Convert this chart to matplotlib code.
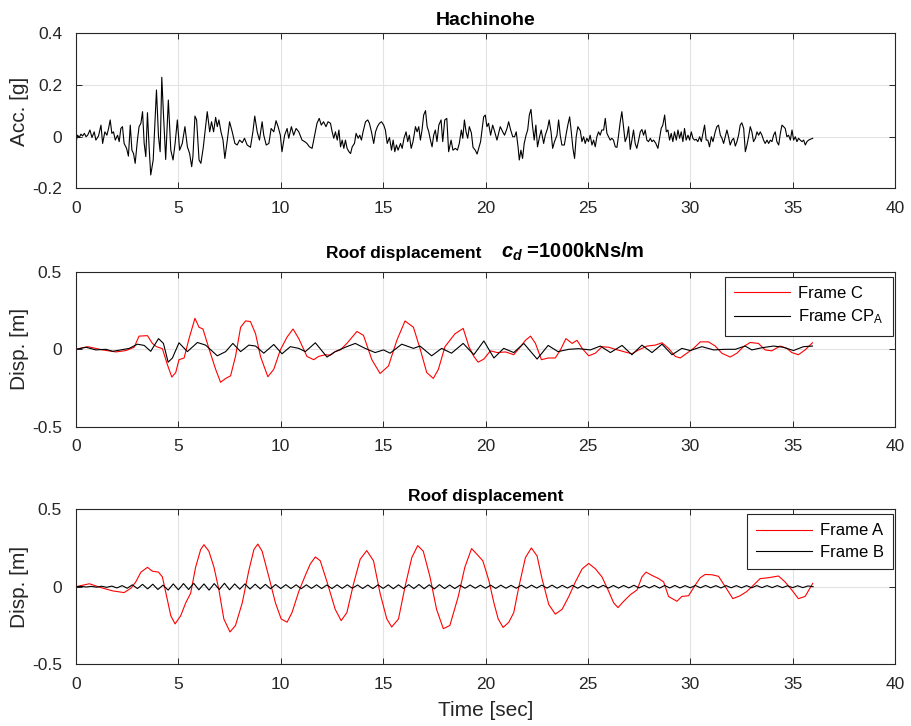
import numpy as np
import matplotlib
matplotlib.use("Agg")
import matplotlib.pyplot as plt
from matplotlib.ticker import FuncFormatter
from matplotlib.offsetbox import TextArea, HPacker, AnchoredOffsetbox

plt.rcParams['font.family'] = ['Liberation Sans', 'DejaVu Sans']
plt.rcParams['mathtext.fontset'] = 'custom'
plt.rcParams['mathtext.it'] = 'Liberation Sans:italic:bold'
plt.rcParams['mathtext.rm'] = 'Liberation Sans:bold'
plt.rcParams['mathtext.sf'] = 'Liberation Sans'
plt.rcParams['axes.unicode_minus'] = False

# ---------------- data ----------------
acc_t = [0.00, 0.08, 0.16, 0.24, 0.32, 0.41, 0.49, 0.57, 0.68, 0.78, 0.89, 0.97, 1.10, 1.22, 1.30, 1.41,
         1.51, 1.59, 1.67, 1.75, 1.83, 1.92, 2.03, 2.11, 2.19, 2.27, 2.35, 2.47, 2.56, 2.65, 2.73, 2.81,
         2.89, 3.00, 3.08, 3.17, 3.25, 3.33, 3.41, 3.49, 3.57, 3.65, 3.77, 3.93, 4.03, 4.11, 4.19, 4.27,
         4.38, 4.51, 4.63, 4.74, 4.84, 4.95, 5.06, 5.19, 5.32, 5.44, 5.55, 5.65, 5.71, 5.81, 5.89, 6.01,
         6.10, 6.22, 6.33, 6.41, 6.53, 6.62, 6.72, 6.82, 6.90, 6.98, 7.08, 7.18, 7.27, 7.39, 7.50, 7.63,
         7.76, 7.87, 7.99, 8.12, 8.23, 8.36, 8.52, 8.64, 8.73, 8.85, 8.96, 9.09, 9.17, 9.29, 9.42, 9.53,
         9.66, 9.77, 9.87, 9.98, 10.06, 10.19, 10.31, 10.39, 10.52, 10.63, 10.75, 10.88, 11.04, 11.17,
         11.28, 11.40, 11.53, 11.64, 11.77, 11.88, 11.98, 12.09, 12.21, 12.31,
         12.43, 12.51, 12.59, 12.67, 12.76, 12.84, 12.92, 13.00, 13.08, 13.16, 13.24, 13.33, 13.41, 13.49,
         13.60, 13.68, 13.78, 13.86, 13.94, 14.02, 14.14, 14.25, 14.33, 14.43, 14.54, 14.63, 14.72, 14.82,
         14.92, 15.03, 15.11, 15.20, 15.31, 15.41, 15.49, 15.57, 15.65, 15.73, 15.85, 15.93, 16.02, 16.12,
         16.20, 16.28, 16.37, 16.46, 16.58, 16.66, 16.74, 16.82, 16.90, 16.98, 17.07, 17.15, 17.23, 17.31,
         17.39, 17.47, 17.55, 17.63, 17.72, 17.83, 17.91, 18.01, 18.11, 18.20, 18.32, 18.41, 18.53, 18.63,
         18.72, 18.82, 18.89, 18.97, 19.05, 19.13, 19.21, 19.31, 19.39, 19.50, 19.59, 19.67, 19.76, 19.83,
         19.91, 19.99, 20.07, 20.15, 20.25, 20.35, 20.45, 20.56, 20.64, 20.72, 20.84, 20.93, 21.05, 21.13,
         21.23, 21.33, 21.42, 21.50, 21.59, 21.65, 21.73, 21.81, 21.89, 21.98, 22.06, 22.14, 22.22, 22.30,
         22.38, 22.46, 22.54, 22.64, 22.72, 22.84, 22.92, 23.03, 23.11, 23.20, 23.28, 23.37, 23.49, 23.57,
         23.65, 23.73, 23.85, 23.93, 24.02, 24.11, 24.19, 24.27, 24.35, 24.43, 24.51,
         24.63, 24.71, 24.79, 24.87, 24.95, 25.03, 25.11, 25.20, 25.28, 25.36, 25.44, 25.52, 25.60, 25.68,
         25.77, 25.85, 25.93, 26.01, 26.09, 26.17, 26.25, 26.34, 26.42, 26.50, 26.58, 26.66, 26.74, 26.82,
         26.91, 26.99, 27.07, 27.15, 27.23, 27.31, 27.39, 27.48, 27.56, 27.64, 27.72, 27.80, 27.88, 27.96,
         28.05, 28.13, 28.21, 28.32, 28.42, 28.50, 28.58, 28.66, 28.75, 28.83, 28.91, 28.99, 29.07, 29.15,
         29.23, 29.32, 29.40, 29.48, 29.56, 29.64, 29.72, 29.80, 29.89, 29.97, 30.05, 30.13, 30.21, 30.29,
         30.37, 30.46, 30.54, 30.62, 30.70, 30.78, 30.86, 30.94, 31.03, 31.11, 31.22, 31.30, 31.38, 31.47,
         31.55, 31.63, 31.71, 31.79, 31.87, 31.95, 32.04, 32.12, 32.20, 32.28, 32.36, 32.44, 32.52, 32.61,
         32.69, 32.77, 32.85, 32.93, 33.01, 33.09, 33.18, 33.26, 33.34, 33.42, 33.50, 33.58, 33.66, 33.75,
         33.83, 33.91, 33.99, 34.07, 34.15, 34.23, 34.32, 34.40, 34.48, 34.56, 34.64, 34.72, 34.80, 34.89,
         34.97, 35.05, 35.13, 35.21, 35.29, 35.37, 35.46, 35.54, 35.62, 35.70, 35.78, 35.86, 35.98]
acc_g = [-0.019, 0.006, -0.003, 0.010, 0.003, 0.013, 0.000, 0.006, 0.026, -0.003, 0.019, -0.013, 0.003, 0.045, -0.026, 0.019,
         0.006, 0.032, 0.065, 0.013, 0.019, -0.013, 0.006, -0.019, 0.032, 0.039, -0.026, -0.045, -0.075, 0.045, -0.052, -0.065,
         -0.103, -0.013, 0.039, 0.052, 0.097, -0.026, -0.077, 0.093, -0.039, -0.148, -0.090, 0.181, 0.000, -0.058, 0.230, 0.090,
         -0.088, 0.142, -0.052, -0.090, -0.026, 0.065, -0.052, -0.026, 0.039, -0.039, -0.065, -0.116, -0.077, 0.080, 0.065, -0.090,
         -0.103, -0.039, 0.039, 0.097, 0.019, 0.058, 0.019, 0.075, 0.039, 0.065, 0.019, -0.013, -0.084, -0.013, 0.058, 0.019,
         -0.026, -0.032, -0.013, -0.023, -0.006, -0.032, -0.041, 0.019, 0.080, 0.019, -0.013, 0.058, 0.006, -0.032, -0.026, 0.032,
         0.019, 0.062, 0.039, 0.006, -0.058, 0.006, 0.032, -0.006, 0.039, 0.006, 0.032, 0.019, -0.013, -0.019,
         -0.026, -0.039, -0.045, 0.000, 0.052, 0.071, 0.045, 0.058, 0.039, 0.058,
         0.052, 0.019, -0.006, 0.019, -0.013, 0.026, -0.039, -0.013, -0.045, -0.013, -0.045, -0.058, -0.065, -0.039,
         -0.026, 0.013, -0.006, 0.006, -0.013, 0.019, 0.058, 0.065, 0.052, 0.019, -0.026, 0.019, 0.039, 0.052,
         0.058, 0.045, 0.026, -0.026, -0.003, -0.052, -0.013, -0.058, -0.032, -0.052, -0.026, -0.045, -0.006, 0.019,
         -0.019, 0.006, -0.045, -0.019, 0.039, 0.019, 0.039, -0.013, 0.026, 0.084, 0.101, 0.039, 0.019, -0.013,
         -0.039, 0.006, 0.026, -0.019, 0.045, 0.065, -0.019, 0.065, 0.071, -0.058, -0.013, -0.052, -0.045, -0.052,
         -0.026, 0.026, -0.006, 0.065, 0.019, -0.006, 0.039, 0.015, -0.041, -0.052, -0.067, -0.045, -0.019, 0.026,
         0.077, 0.084, 0.039, 0.052, 0.006, 0.045, 0.019, -0.013, 0.013, 0.039, 0.019, 0.006, 0.032, 0.058,
         0.026, 0.000, 0.000, 0.019, -0.039, -0.090, -0.052, -0.084, -0.026, 0.006, 0.026, 0.084, 0.106, 0.039,
         -0.013, 0.045, -0.039, 0.000, 0.026, -0.026, 0.006, 0.032, 0.065, 0.019, -0.045, -0.019, 0.006, 0.065,
         0.006, -0.032, -0.032, 0.006, 0.045, 0.077, 0.019, -0.045, -0.084, 0.000, 0.039,
         0.023, -0.019, 0.000, -0.026, -0.006, -0.019, 0.006, -0.032, -0.013, -0.039, 0.000, 0.019, 0.006, 0.026,
         0.026, 0.071, 0.013, 0.000, -0.013, -0.006, -0.013, -0.039, -0.041, 0.006, 0.058, 0.097, 0.039, -0.019,
         0.000, 0.039, -0.049, -0.013, 0.026, -0.026, -0.045, -0.013, 0.019, 0.028, 0.006, 0.026, -0.013, -0.019,
         -0.006, -0.019, -0.013, -0.026, -0.045, -0.006, 0.032, 0.045, 0.084, 0.019, 0.026, -0.013, 0.013, -0.019,
         0.019, -0.013, 0.026, -0.006, 0.019, -0.019, 0.032, -0.013, 0.006, -0.013, 0.019, -0.006, -0.013, -0.010,
         -0.019, 0.000, -0.019, 0.013, 0.045, -0.013, -0.013, -0.039, 0.000, -0.019, 0.019, 0.039, 0.045, 0.006,
         -0.006, -0.026, 0.000, 0.026, 0.000, -0.032, -0.013, -0.006, -0.036, -0.019, 0.006, 0.045, 0.054, 0.032,
         -0.058, -0.032, 0.000, 0.039, 0.019, -0.019, -0.006, 0.019, 0.006, 0.019, 0.006, -0.013, -0.026, -0.013,
         -0.026, -0.013, -0.019, 0.006, 0.019, -0.019, -0.032, 0.013, 0.045, 0.039, 0.032, 0.000, 0.006, -0.013,
         0.026, -0.013, 0.000, -0.019, -0.006, -0.013, -0.019, -0.013, -0.032, -0.019, -0.013, -0.010, -0.006]

# Middle panel: Frame C (red) and Frame CP_A (black)
fc_t = [0.00, 0.57, 1.30, 1.95, 2.44, 2.84, 3.08, 3.49, 3.73, 3.93, 4.22, 4.46, 4.68, 4.87, 5.03, 5.28,
        5.52, 5.81, 6.01, 6.20, 6.49, 6.82, 7.06, 7.31, 7.55, 7.79, 8.04, 8.28, 8.52, 8.77, 9.01, 9.37,
        9.66, 9.98, 10.31, 10.60, 10.88, 11.28, 11.61, 11.85, 12.18, 12.42, 12.66, 12.91, 13.23, 13.72,
        14.04, 14.45, 14.85, 15.26, 15.67, 16.07, 16.48, 16.80, 17.13, 17.45, 17.70, 18.02, 18.51, 18.91,
        19.19, 19.43, 19.64, 19.92, 20.24, 20.57, 20.98, 21.38, 21.71, 21.95, 22.20, 22.44, 22.73, 23.06,
        23.41, 23.66, 23.93, 24.23, 24.47, 24.72, 25.04, 25.37, 25.69, 26.02, 26.34, 26.75, 27.15, 27.48,
        27.89, 28.29, 28.62, 28.94, 29.27, 29.51, 29.84, 30.16, 30.49, 30.89, 31.22, 31.54, 31.95, 32.28,
        32.60, 32.93, 33.33, 33.66, 33.98, 34.39, 34.72, 34.96, 35.28, 35.61, 35.97]
fc_d = [0.000, 0.017, -0.004, -0.017, -0.008, 0.013, 0.085, 0.088, 0.038, 0.017, 0.004, -0.098, -0.179, -0.150, -0.067, -0.056,
        0.069, 0.200, 0.142, 0.131, 0.006, -0.129, -0.213, -0.188, -0.171, -0.046, 0.142, 0.183, 0.179, 0.100, -0.046, -0.177,
        -0.129, -0.004, 0.079, 0.131, 0.069, -0.046, -0.067, -0.046, -0.035, -0.038, -0.015, -0.004, 0.038, 0.115,
        0.090, -0.067, -0.156, -0.108, 0.058, 0.183, 0.142, 0.006, -0.150, -0.188, -0.129, 0.017, 0.100, 0.135,
        0.017, -0.046, -0.083, -0.063, -0.010, -0.021, -0.017, -0.035, 0.017, 0.058, 0.085, 0.038, -0.067, -0.056,
        -0.056, -0.004, 0.069, 0.038, 0.058, 0.006, -0.042, -0.025, 0.017, 0.013, 0.000, -0.015, -0.029, -0.004,
        0.021, 0.027, 0.042, 0.006, -0.046, -0.056, -0.025, 0.006, 0.048, 0.048, 0.021, -0.025, -0.050, -0.025,
        0.017, 0.044, 0.038, -0.004, -0.010, 0.021, 0.006, -0.021, -0.035, -0.004, 0.042]

fcpa_t = [0.00, 0.49, 0.97, 1.46, 1.79, 2.19, 2.60, 3.00, 3.33, 3.65, 4.03, 4.27, 4.50, 4.71, 5.03, 5.44,
          5.93, 6.33, 6.90, 7.31, 7.66, 8.04, 8.44, 8.77, 9.17, 9.66, 10.06, 10.47, 10.88, 11.20, 11.69, 12.26,
          12.66, 13.15, 13.64, 14.12, 14.61, 15.02, 15.34, 15.91, 16.48, 16.80, 17.37, 17.86, 18.34, 18.91,
          19.43, 19.92, 20.41, 20.89, 21.38, 21.87, 22.52, 23.06, 23.54, 24.07, 24.55, 25.12, 25.61, 26.10,
          26.67, 27.15, 27.64, 28.13, 28.62, 29.11, 29.59, 30.00, 30.57, 31.14, 31.71, 32.20, 32.68, 33.01,
          33.50, 34.07, 34.55, 35.04, 35.53, 35.97]
fcpa_d = [0.000, 0.013, -0.004, 0.000, -0.013, -0.004, 0.006, 0.033, 0.025, -0.013, 0.069, 0.038, -0.083, -0.056, 0.042, -0.015,
          0.044, 0.027, -0.042, -0.015, 0.038, -0.015, 0.027, 0.021, -0.025, 0.031, -0.029, 0.017, 0.006, -0.015, 0.042, -0.050,
          -0.015, 0.013, 0.038, 0.006, -0.021, -0.004, -0.025, 0.033, 0.006, 0.021, -0.042, 0.006, -0.025, 0.038,
          -0.035, 0.054, -0.056, 0.006, -0.021, 0.038, -0.063, 0.025, -0.015, 0.000, 0.004, -0.004, 0.021, -0.021,
          0.025, -0.035, 0.027, -0.021, 0.033, -0.035, 0.006, -0.008, 0.017, -0.004, 0.000, 0.000, 0.021, -0.004,
          0.010, 0.021, 0.013, -0.008, 0.017, 0.021]

# Bottom panel: Frame A (red) and Frame B (black)
fa_t = [0.00, 0.65, 1.22, 1.79, 2.35, 2.68, 2.92, 3.17, 3.49, 3.73, 4.03, 4.22, 4.46, 4.63, 4.84, 5.11,
        5.36, 5.60, 5.84, 6.09, 6.25, 6.49, 6.74, 6.98, 7.22, 7.52, 7.79, 8.12, 8.44, 8.69, 8.88, 9.09,
        9.42, 9.74, 10.02, 10.31, 10.55, 10.88, 11.20, 11.44, 11.69, 11.93, 12.26, 12.66, 12.95, 13.23,
        13.56, 13.88, 14.20, 14.53, 14.85, 15.18, 15.42, 15.75, 16.07, 16.40, 16.69, 16.96, 17.29, 17.61,
        17.94, 18.26, 18.67, 18.99, 19.32, 19.59, 19.87, 20.16, 20.41, 20.62, 20.86, 21.14, 21.38, 21.63,
        21.95, 22.24, 22.52, 22.76, 23.09, 23.41, 23.74, 24.07, 24.39, 24.72, 25.04, 25.37, 25.69, 26.02,
        26.26, 26.47, 26.75, 27.07, 27.40, 27.64, 27.84, 28.13, 28.46, 28.70, 28.94, 29.35, 29.59, 29.92,
        30.24, 30.49, 30.73, 31.06, 31.38, 31.71, 32.08, 32.44, 32.76, 33.09, 33.41, 33.82, 34.31, 34.63,
        34.96, 35.28, 35.61, 35.98]
fa_d = [0.000, 0.019, -0.006, -0.027, -0.038, -0.010, 0.031, 0.094, 0.125, 0.100, 0.094, 0.063, -0.083, -0.188, -0.240, -0.188,
        -0.104, -0.042, 0.125, 0.240, 0.271, 0.229, 0.125, -0.021, -0.208, -0.292, -0.250, -0.104, 0.104, 0.240, 0.275, 0.229,
        0.063, -0.104, -0.208, -0.229, -0.167, -0.031, 0.073, 0.146, 0.192, 0.167, 0.031, -0.146, -0.219, -0.167,
        0.021, 0.177, 0.233, 0.167, -0.042, -0.208, -0.260, -0.208, 0.000, 0.188, 0.265, 0.229, 0.063, -0.146,
        -0.271, -0.250, -0.063, 0.125, 0.246, 0.208, 0.167, 0.042, -0.104, -0.208, -0.263, -0.229, -0.167, 0.000,
        0.188, 0.250, 0.198, 0.052, -0.115, -0.177, -0.146, -0.063, 0.031, 0.115, 0.150, 0.115, 0.063, -0.031,
        -0.104, -0.135, -0.094, -0.052, -0.021, 0.063, 0.094, 0.073, 0.052, 0.031, -0.063, -0.094, -0.063, -0.058,
        0.010, 0.058, 0.079, 0.077, 0.067, 0.000, -0.077, -0.058, -0.031, 0.010, 0.052, 0.058, 0.069, 0.031,
        -0.021, -0.077, -0.063, 0.021]

fb_dt = 0.25  # sampling of the read-off values below (one value per half-oscillation)
fb_d = [0.000, 0.002, -0.002, 0.002,
        -0.003, 0.003, -0.004, 0.004,
        -0.008, 0.007, -0.010, 0.012,
        -0.012, 0.015, -0.014, 0.016,
        -0.018, 0.010, -0.022, 0.018,
        -0.020, 0.020, -0.018, 0.022,
        -0.020, 0.018, -0.022, 0.020,
        -0.018, 0.022, -0.020, 0.018,
        -0.016, 0.018, -0.015, 0.016,
        -0.014, 0.015, -0.013, 0.014,
        -0.012, 0.013, -0.012, 0.012,
        -0.013, 0.012, -0.011, 0.012,
        -0.012, 0.011, -0.012, 0.012,
        -0.011, 0.012, -0.010, 0.011,
        -0.012, 0.011, -0.012, 0.012,
        -0.011, 0.012, -0.013, 0.012,
        -0.012, 0.013, -0.012, 0.014,
        -0.013, 0.012, -0.014, 0.013,
        -0.012, 0.011, -0.012, 0.010,
        -0.010, 0.011, -0.010, 0.010,
        -0.010, 0.010, -0.011, 0.010,
        -0.010, 0.009, -0.010, 0.010,
        -0.010, 0.010, -0.009, 0.010,
        -0.009, 0.010, -0.010, 0.009,
        -0.009, 0.009, -0.010, 0.009,
        -0.009, 0.009, -0.008, 0.009,
        -0.009, 0.008, -0.009, 0.008,
        -0.008, 0.009, -0.008, 0.008,
        -0.008, 0.008, -0.009, 0.008,
        -0.008, 0.008, -0.008, 0.007,
        -0.007, 0.008, -0.007, 0.008,
        -0.007, 0.007, -0.008, 0.007,
        -0.007, 0.007, -0.007, 0.007,
        -0.007, 0.007, -0.006, 0.007,
        -0.006, 0.007, -0.006, 0.006,
        -0.006, 0.006, -0.006, 0.005,
        0.000]
fb_t = np.arange(len(fb_d)) * fb_dt

title_top = "Hachinohe"
title_mid_a = "Roof displacement"
title_mid_b = "$c_d$ =1000kNs/m"
title_bot = "Roof displacement"
ylabels = ["Acc. [g]", "Disp. [m]", "Disp. [m]"]
xticks = [0, 5, 10, 15, 20, 25, 30, 35, 40]

# ---------------- figure ----------------
W, H = 911, 726
fig = plt.figure(figsize=(W / 100, H / 100), dpi=100)

left = 76 / W
width = (895 - 76) / W
ah = 155 / H
bottoms = [1 - 188.4 / H, 1 - 426.8 / H, 1 - 664.2 / H]
axes = [fig.add_axes([left, b, width, ah]) for b in bottoms]

AXC = '#262626'
fmt = FuncFormatter(lambda v, p: '%g' % round(v, 3))

for i, ax in enumerate(axes):
    ax.set_xlim(0, 40)
    ax.set_xticks(xticks)
    if i == 0:
        ax.set_ylim(-0.2, 0.4)
        ax.set_yticks([-0.2, 0, 0.2, 0.4])
    else:
        ax.set_ylim(-0.5, 0.5)
        ax.set_yticks([-0.5, 0, 0.5])
    ax.xaxis.set_major_formatter(fmt)
    ax.yaxis.set_major_formatter(fmt)
    ax.grid(True, color='#e3e3e3', linewidth=0.8)
    ax.set_axisbelow(True)
    for s in ax.spines.values():
        s.set_color(AXC)
        s.set_linewidth(0.8)
    ax.tick_params(direction='in', length=4.5, width=0.7, color=AXC, labelcolor=AXC,
                   labelsize=12.5, top=True, right=True)
    ax.tick_params(axis='x', pad=9)
    ax.tick_params(axis='y', pad=10)
    ax.set_ylabel(ylabels[i], fontsize=15, color=AXC, labelpad=2)

axes[0].set_title(title_top, fontsize=14, fontweight='bold', color='black', pad=6)
axes[2].set_title(title_bot, fontsize=12.5, fontweight='bold', color='black', pad=6)

# middle title: plain part + c_d part, packed on one baseline
ta = TextArea(title_mid_a, textprops=dict(fontsize=12.5, fontweight='bold', color='black'))
tb = TextArea(title_mid_b, textprops=dict(fontsize=14.5, fontweight='bold', color='black'))
pack = HPacker(children=[ta, tb], align='baseline', pad=0, sep=14)
anch = AnchoredOffsetbox(loc='lower center', child=pack, pad=0, borderpad=0.6, frameon=False,
                         bbox_to_anchor=(0.5, 1.0), bbox_transform=axes[1].transAxes)
axes[1].add_artist(anch)

axes[0].plot(acc_t, acc_g, color='black', linewidth=0.8)

axes[1].plot(fc_t, fc_d, color='#ff0000', linewidth=0.8, label='Frame C')
axes[1].plot(fcpa_t, fcpa_d, color='black', linewidth=0.8, label='Frame CP$_{\\mathsf{A}}$')

axes[2].plot(fa_t, fa_d, color='#ff0000', linewidth=0.8, label='Frame A')
axes[2].plot(fb_t, fb_d, color='black', linewidth=0.8, label='Frame B')
axes[2].set_xlabel('Time [sec]', fontsize=15, color=AXC, labelpad=7)

for ax in axes[1:]:
    leg = ax.legend(loc='upper right', bbox_to_anchor=(1 - 2 / 819, 1 - 5 / 155), fontsize=12,
                    frameon=True, fancybox=False, edgecolor=AXC, framealpha=1,
                    handlelength=3.35, handletextpad=0.5, borderpad=0.55,
                    labelspacing=0.4, borderaxespad=0)
    leg.get_frame().set_linewidth(0.8)

fig.savefig('out.png', dpi=100)
